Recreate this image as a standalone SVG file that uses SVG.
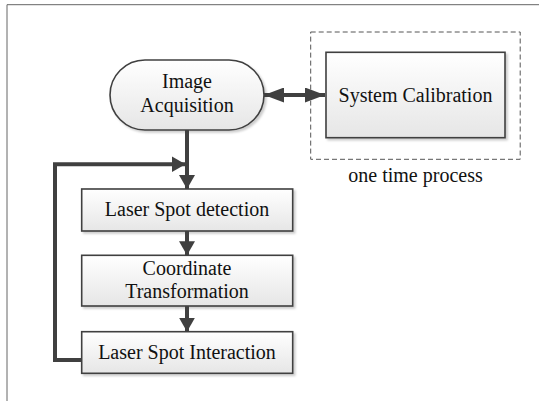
<svg xmlns="http://www.w3.org/2000/svg" width="539" height="401" viewBox="0 0 539 401">
<defs>
<linearGradient id="g" x1="0" y1="0" x2="0" y2="1">
<stop offset="0" stop-color="#ffffff"/>
<stop offset="1" stop-color="#e6e6e6"/>
</linearGradient>
<marker id="ah" viewBox="0 0 14 16" refX="14" refY="8" markerWidth="14" markerHeight="16" markerUnits="userSpaceOnUse" orient="auto-start-reverse">
<path d="M0,0 L14,8 L0,16 Z" fill="#404040"/>
</marker>
<marker id="ah2" viewBox="0 0 20 15" refX="20" refY="7.5" markerWidth="20" markerHeight="15" markerUnits="userSpaceOnUse" orient="auto-start-reverse">
<path d="M0,0 L20,7.5 L0,15 Z" fill="#404040"/>
</marker>
<filter id="sh" x="-5%" y="-5%" width="115%" height="120%">
<feDropShadow dx="2" dy="2" stdDeviation="1" flood-color="#000" flood-opacity="0.2"/>
</filter>
</defs>
<style>
.box{fill:url(#g);stroke:#404040;stroke-width:1.6;filter:url(#sh)}
.t{font-family:"Liberation Serif",serif;font-size:20px;fill:#111;text-anchor:middle}
.c{fill:none;stroke:#404040;stroke-width:4}
</style>
<rect width="539" height="401" fill="#fff"/>
<path d="M7,401 V4.7 H539" fill="none" stroke="#666" stroke-width="1"/>
<g id="calib-group">
<rect x="310.7" y="32" width="209.5" height="127.3" fill="none" stroke="#555" stroke-width="1" stroke-dasharray="5,3"/>
<text class="t" x="415.5" y="182">one time process</text>
</g>
<g id="image-acquisition">
<rect class="box" x="110" y="60" width="154" height="70" rx="35" ry="35"/>
<text class="t" x="187" y="88">Image</text>
<text class="t" x="187" y="111.5">Acquisition</text>
</g>
<g id="system-calibration">
<rect class="box" x="326" y="52.3" width="179" height="85.4"/>
<text class="t" x="415.5" y="101.5">System Calibration</text>
</g>
<g id="laser-spot-detection">
<rect class="box" x="81.7" y="189" width="211" height="42"/>
<text class="t" x="187" y="216">Laser Spot detection</text>
</g>
<g id="coordinate-transformation">
<rect class="box" x="81.7" y="255.3" width="211" height="50.7"/>
<text class="t" x="187" y="275">Coordinate</text>
<text class="t" x="187" y="297.5">Transformation</text>
</g>
<g id="laser-spot-interaction">
<rect class="box" x="81.7" y="331.7" width="211" height="41.6"/>
<text class="t" x="187" y="358.5">Laser Spot Interaction</text>
</g>
<g id="connectors">
<path class="c" d="M187,130 V189" marker-end="url(#ah)"/>
<path class="c" d="M81.7,360 H55 V164.3 H185.5" marker-end="url(#ah)"/>
<path class="c" d="M264,95 H325" marker-start="url(#ah2)" marker-end="url(#ah2)"/>
<path class="c" d="M187,231 V255.3" marker-end="url(#ah)"/>
<path class="c" d="M187,306 V331.7" marker-end="url(#ah)"/>
</g>
</svg>
